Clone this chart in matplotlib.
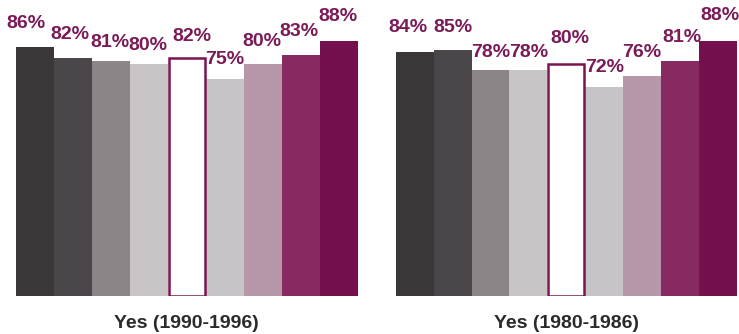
import matplotlib
matplotlib.use("Agg")
import matplotlib.pyplot as plt

# Share answering "Yes" in each group, two survey periods
groups = ["G1", "G2", "G3", "G4", "G5", "G6", "G7", "G8", "G9"]
yes_1990_1996 = [86, 82, 81, 80, 82, 75, 80, 83, 88]
yes_1980_1986 = [84, 85, 78, 78, 80, 72, 76, 81, 88]
panel_titles = ["Yes (1990-1996)", "Yes (1980-1986)"]

fills = ["#3b3739", "#4b4649", "#8b8588", "#c9c5c7", "#ffffff",
         "#c6c4c6", "#b797aa", "#872a62", "#760f4d"]
edge_purple = "#7a1452"
label_color = "#7a1a57"

# per-bar nudges (pixels) for the value labels: horizontal, and baseline gap
left_dx = [-9, -3, -1, -1, 5, 0, -1, -2, -1]
left_dy = [19, 19, 14, 14, 17, 15, 18, 19, 20]
right_dx = [-7, 0, 0, 0, 4, 1, 0, 2, 2]
right_dy = [20, 18, 13, 13, 21, 15, 19, 19, 21]

fig = plt.figure(figsize=(7.39, 3.34), dpi=100)
fig.patch.set_facecolor("white")

boxes = [[0.0212, 0.1138, 0.4632, 0.868], [0.5355, 0.1138, 0.4614, 0.868]]
series = [yes_1990_1996, yes_1980_1986]
nudges = [(left_dx, left_dy), (right_dx, right_dy)]
px = 0.72  # points per pixel at 100 dpi

for box, vals, title, (dxs, dys) in zip(boxes, series, panel_titles, nudges):
    ax = fig.add_axes(box)
    for i, v in enumerate(vals):
        if fills[i] == "#ffffff":
            ax.bar(i, v, width=0.94, color="white", edgecolor=edge_purple,
                   linewidth=1.8, zorder=3)
        else:
            ax.bar(i, v, width=1.0, color=fills[i], edgecolor="none", zorder=2)
        ax.annotate(f"{v}%", xy=(i, v), xytext=(dxs[i] * px, dys[i] * px),
                    textcoords="offset points", ha="center", va="baseline",
                    fontsize=14, fontweight="bold", color=label_color,
                    family=["Liberation Sans", "DejaVu Sans"],
                    annotation_clip=False, clip_on=False)
    ax.set_xlim(-0.5, len(groups) - 0.5)
    ax.set_ylim(0, 100)
    ax.axis("off")
    ax.text(0.5, -0.065, title, transform=ax.transAxes, ha="center", va="top",
            fontsize=14, fontweight="bold", color="#2a2a2a",
            family=["Liberation Sans", "DejaVu Sans"])

fig.savefig("out.png", dpi=100, facecolor="white")
